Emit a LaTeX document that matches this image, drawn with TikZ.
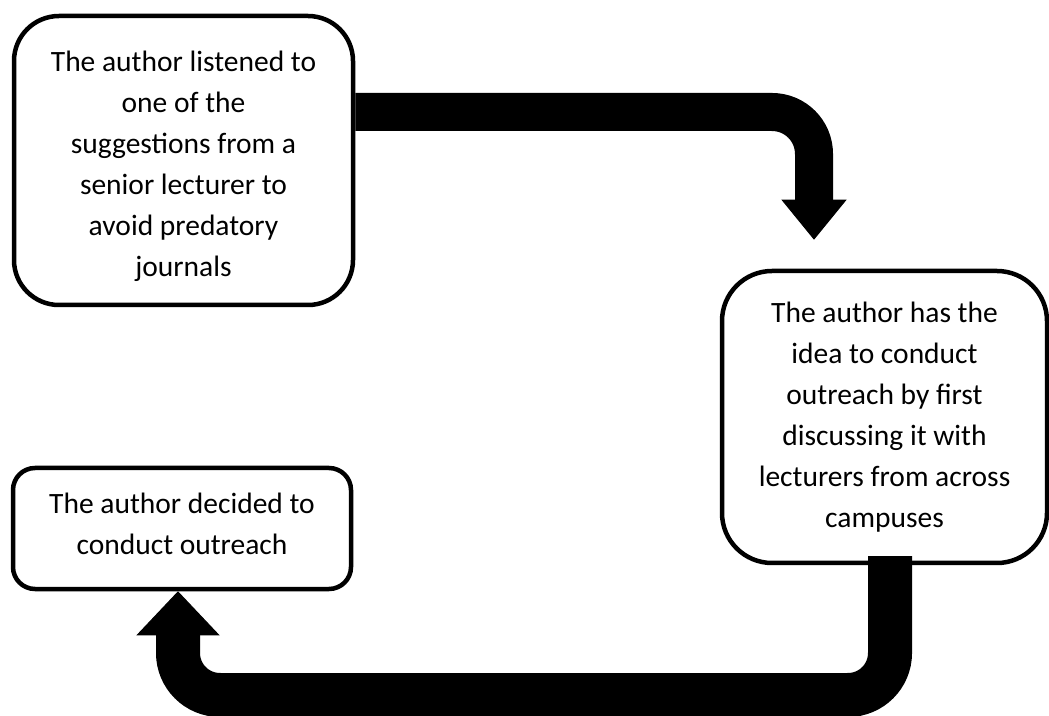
\documentclass[tikz,border=0pt]{standalone}
\usepackage{fontspec}
\setmainfont{Carlito}
\usetikzlibrary{arrows.meta,positioning}
\tikzset{
  % rounded boxes holding the steps
  stepbox/.style={rectangle, draw, line width=4.5pt, fill=white, align=center,
  font=\fontsize{29.5}{41}\selectfont},
  % fat black arrows between the steps
  fatarrow/.style={draw=black, line cap=butt}}

\begin{document}
\begin{tikzpicture}[x=1pt,y=1pt]

\useasboundingbox (0,0) rectangle (1049,715);

\draw (183.5,554.5) node (listen) [stepbox, minimum width=339pt, minimum height=289pt, rounded corners=45pt] {\rule{0pt}{32pt}The author listened to\\one of the\\suggestions from a\\senior lecturer to\\avoid predatory\\journals};

\draw (884.5,298) node (idea) [stepbox, minimum width=325pt, minimum height=292pt, rounded corners=50pt] {The author has the\\idea to conduct\\outreach by first\\discussing it with\\lecturers from across\\campuses};

\draw (182,186.5) node (decide) [stepbox, minimum width=338pt, minimum height=121pt, rounded corners=22pt] {The author decided to\\conduct outreach\rule[-9pt]{0pt}{9pt}};

\path ([xshift=-70.5pt,yshift=29pt]idea.north) coordinate(tipa);
\draw [fatarrow, line width=38pt, rounded corners=42pt, -{Triangle[width=65pt,length=40pt,line width=1pt]}] ([yshift=48.5pt]listen.east) -| (tipa);

\path (0,20) coordinate(low);
\draw [fatarrow, line width=44pt, rounded corners=42pt, -{Triangle[width=83pt,length=44pt,line width=1pt]}] ([xshift=5.5pt,yshift=9pt]idea.south) |- ([xshift=-4pt]decide.south |- low) -- ([xshift=-4pt]decide.south);

\end{tikzpicture}
\end{document}
